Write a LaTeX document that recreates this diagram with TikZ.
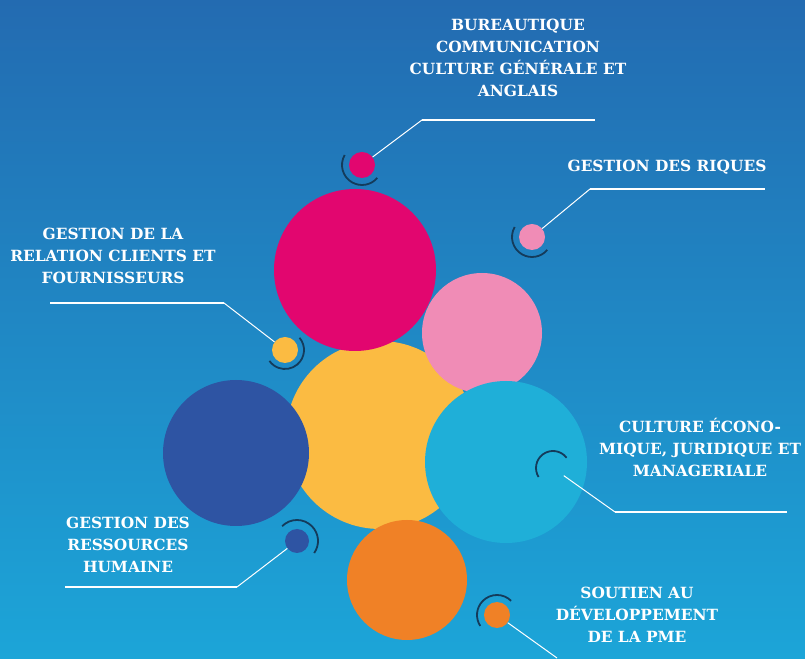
\documentclass[tikz,border=0pt]{standalone}
\usepackage{fontspec}
\setmainfont{DejaVu Serif}
\usetikzlibrary{calc}
\definecolor{bgtop}{HTML}{236BB1}
\definecolor{bgbot}{HTML}{1CA5D8}
\definecolor{cmag}{HTML}{E2066F}
\definecolor{cyel}{HTML}{FBBB42}
\definecolor{cpink}{HTML}{F08CB6}
\definecolor{ccyan}{HTML}{1FAFD8}
\definecolor{cdblue}{HTML}{2E54A3}
\definecolor{corange}{HTML}{F08126}
\definecolor{arcnavy}{HTML}{143B5B}
\tikzset{
  big/.style={circle, inner sep=0pt, minimum size=#1},
  small/.style={circle, inner sep=0pt, minimum size=26pt},
  arcs/.style={draw=arcnavy, line width=1.8pt},
  diag/.style={draw=white, line width=1pt},
  hline/.style={draw=white, line width=1.7pt},
  lab/.style={text=white, align=center, font=\fontsize{15.4}{22}\selectfont\bfseries, inner sep=0pt}
}
\begin{document}
\begin{tikzpicture}[x=1pt,y=1pt]
\useasboundingbox (0,0) rectangle (805,658);
\shade[top color=bgtop, bottom color=bgbot] (0,0) rectangle (805,658);
% big circles
\node[big=188pt, fill=cyel] (yel) at (380,223) {};
\node[big=162pt, fill=cmag] (mag) at (355,388) {};
\node[big=120pt, fill=cpink] (pink) at (482,325) {};
\node[big=162pt, fill=ccyan] (cyan) at (506,196) {};
\node[big=146pt, fill=cdblue] (dblue) at (236,205) {};
\node[big=120pt, fill=corange] (orange) at (407,78) {};
% small circles
\node[small, fill=cmag] (s1) at (362,493) {};
\node[small, fill=cpink] (s2) at (532,421) {};
\node[small, fill=cyel] (s3) at (285,308) {};
\node[small, fill=cdblue, minimum size=24pt] (s4) at (297,117) {};
\node[small, fill=corange] (s5) at (497,43) {};
\node[small] (s6) at (553,190) {};
% arcs
\draw[arcs] ([shift={(150:20)}]s1.center) arc[start angle=150, end angle=320, radius=20];
\draw[arcs] ([shift={(150:20)}]s2.center) arc[start angle=150, end angle=320, radius=20];
\draw[arcs] ([shift={(40:19)}]s3.center) arc[start angle=40, end angle=-145, radius=19];
\draw[arcs] ([shift={(135:21)}]s4.center) arc[start angle=135, end angle=-35, radius=21];
\draw[arcs] ([shift={(45:20)}]s5.center) arc[start angle=45, end angle=213, radius=20];
\draw[arcs] ([shift={(37:17)}]s6.center) arc[start angle=37, end angle=212, radius=17];
% connector corners
\coordinate (c1) at (422,538); \coordinate (e1) at (595,538);
\coordinate (c2) at (590,469); \coordinate (e2) at (765,469);
\coordinate (c3) at (224,355); \coordinate (e3) at (50,355);
\coordinate (c4) at (237,71);  \coordinate (e4) at (65,71);
\coordinate (e5) at (557,0);
\coordinate (c6) at (615,146); \coordinate (e6) at (787,146);
\draw[diag] (s1) -- (c1); \draw[hline] (c1) -- (e1);
\draw[diag] (s2) -- (c2); \draw[hline] (c2) -- (e2);
\draw[diag] (s3) -- (c3); \draw[hline] (c3) -- (e3);
\draw[diag] (s4) -- (c4); \draw[hline] (c4) -- (e4);
\draw[diag] (s5) -- (e5);
\draw[diag] (s6) -- (c6); \draw[hline] (c6) -- (e6);
% labels
\node[lab] (t1) at (518,600) {BUREAUTIQUE\\COMMUNICATION\\CULTURE GÉNÉRALE ET\\ANGLAIS};
\node[lab] (t2) at (667,491) {GESTION DES RIQUES};
\node[lab] (t3) at (113,402) {GESTION DE LA\\RELATION CLIENTS ET\\FOURNISSEURS};
\node[lab] (t4) at (700,211) {CULTURE ÉCONO-\\MIQUE, JURIDIQUE ET\\MANAGERIALE};
\node[lab] (t5) at (128,113) {GESTION DES\\RESSOURCES\\HUMAINE};
\node[lab] (t6) at (637,43) {SOUTIEN AU\\DÉVELOPPEMENT\\DE LA PME};
\end{tikzpicture}
\end{document}
